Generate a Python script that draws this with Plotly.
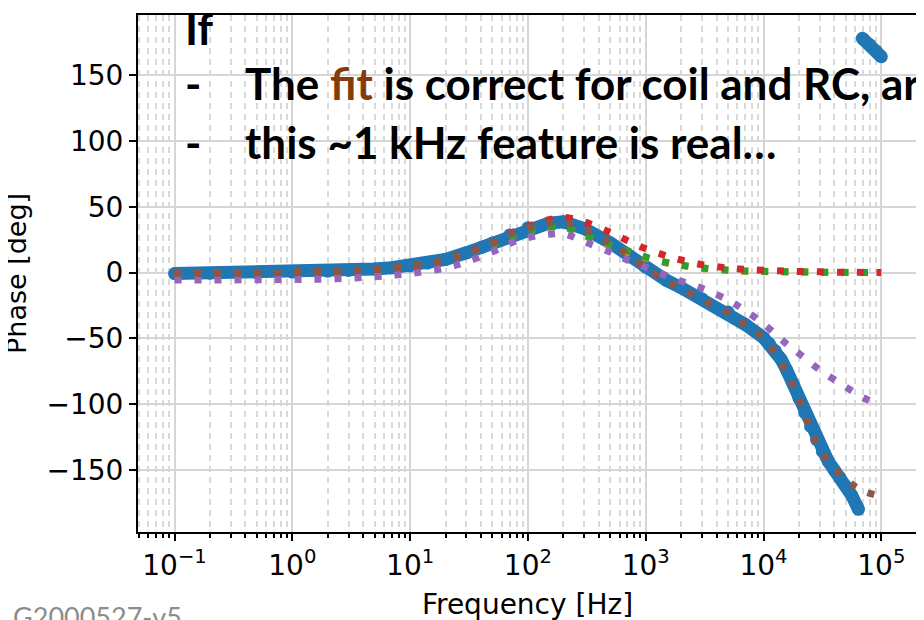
import plotly.graph_objects as go

# measured phase (deg) vs frequency (Hz); None splits the +/-180 wrap
freq_meas = [0.1, 0.2, 0.5, 1, 2, 3, 5, 7, 10, 14, 20, 30, 40, 50, 70, 100, 150, 200, 300,
             500, 700, 1000, 1500, 2000, 3000, 5000, 7000, 10000, 11200, 12600, 14100, 15800,
             17800, 20000, 22400, 25100, 28200, 31600, 35500, 39800, 44700, 50100, 56200,
             64000, None, 69000, 80000, 90000, 100000]
phase_meas = [-0.8, -0.5, -0.2, 0.3, 1, 1.6, 2.6, 3.6, 5, 7.2, 10, 15, 19, 22.5, 28.5, 34,
              37.5, 38.5, 33.5, 22.5, 13.5, 4, -6, -11.5, -20, -30, -39.5, -49.5, -54, -59.5,
              -66, -74.5, -84.5, -95.5, -106.5, -117, -127, -136, -143.5, -150, -156, -162.5,
              -169.5, -180, None, 178, 173, 168.5, 164]

# fit curves
freq_fit = [0.1, 0.2, 0.5, 1, 2, 5, 10, 20, 30, 50, 70, 100, 150, 200, 300, 500, 700,
            1000, 1500, 2000, 3000, 5000, 7000, 10000, 15000, 20000, 30000, 50000, 70000, 100000]
phase_orange = [-0.5, -0.5, -0.2, 0.2, 0.8, 2.3, 4.5, 9.3, 14.5, 21.5, 27, 32, 34.5, 34.5, 28,
                20.3, 15.3, 11, 7.2, 5.3, 3.1, 1.6, 1.0, 0.7, 0.5, 0.4, 0.2, 0.1, 0, 0]
phase_green = [-0.5, -0.5, -0.2, 0.2, 0.8, 2.3, 4.5, 9.3, 14.5, 21.5, 27, 32, 34.5, 35, 28.5,
               21.5, 16.5, 11.8, 7.7, 5.7, 3.6, 1.9, 1.2, 0.9, 0.6, 0.5, 0.3, 0.1, 0, 0]
phase_red = [-0.5, -0.5, -0.2, 0.2, 0.8, 2.3, 4.5, 9.5, 15, 22.5, 29.5, 35, 40, 42, 38.5,
             30.4, 24.2, 18, 12.7, 9.5, 6, 3.4, 2.4, 1.7, 1.1, 0.8, 0.5, 0.2, 0.1, 0]
phase_purple = [-5.7, -5.7, -5.5, -5.3, -5, -3.2, -0.7, 3.5, 8, 15.7, 22, 26.5, 29, 29.5, 23.5,
                15.5, 9.5, 4, -2.5, -6.5, -12, -21, -29, -39, -52.8, -61.5, -74, -87, -95, -101]
phase_brown = [-0.5, -0.5, -0.2, 0.2, 0.8, 2.3, 4.5, 9.5, 14.5, 22.5, 29.5, 34, 37.5, 38.5, 33,
               22.5, 13.5, 3.5, -6.5, -12, -20.5, -30.5, -40, -50, -73, -96, -134, -157, -166, -170]

y_ticks = [-150, -100, -50, 0, 50, 100, 150]
x_ticks = [0.1, 1, 10, 100, 1000, 10000, 100000]
x_labels = ["10<sup>−1</sup>", "10<sup>0</sup>", "10<sup>1</sup>", "10<sup>2</sup>",
            "10<sup>3</sup>", "10<sup>4</sup>", "10<sup>5</sup>"]

# page body adds an 8px offset, so the figure is laid out 8px up/left
OFF = 8
W, H = 924, 620
L, R, T, B = 130, 15, 7, 96


def px(x):
    return (x - OFF - L) / (W - L - R)


def py(y):
    return (H - B - (y - OFF)) / (H - T - B)


fig = go.Figure()

fig.add_trace(go.Scatter(x=freq_meas, y=phase_meas, mode="lines+markers",
                         line=dict(color="#1f77b4", width=13),
                         marker=dict(color="#1f77b4", size=13), connectgaps=False))

dot = "7px,13px"
for vals, col in [(phase_orange, "#ff7f0e"), (phase_green, "#2ca02c"), (phase_red, "#d62728"),
                  (phase_purple, "#9467bd"), (phase_brown, "#8c564b")]:
    fig.add_trace(go.Scatter(x=freq_fit, y=vals, mode="lines",
                             line=dict(color=col, width=7, dash=dot, shape="spline")))

txt_font = dict(family="Lato", size=44, color="black")
fig.add_annotation(text="<b>If</b>", x=px(183), y=py(28), xref="paper", yref="paper",
                   xanchor="left", yanchor="middle", showarrow=False, font=txt_font)
for yy in [83, 142]:
    fig.add_annotation(text="<b>-</b>", x=px(183), y=py(yy), xref="paper", yref="paper",
                       xanchor="left", yanchor="middle", showarrow=False, font=txt_font)
fig.add_annotation(text="<b>The <span style='color:#843c0c'>fit</span> is correct for coil and RC, ar</b>",
                   x=px(243), y=py(83), xref="paper", yref="paper",
                   xanchor="left", yanchor="middle", showarrow=False, font=txt_font)
fig.add_annotation(text="<b>this ~1 kHz feature is real…</b>",
                   x=px(243), y=py(142), xref="paper", yref="paper",
                   xanchor="left", yanchor="middle", showarrow=False, font=txt_font)
fig.add_annotation(text="G2000527-v5", x=px(11), y=py(598), xref="paper", yref="paper",
                   xanchor="left", yanchor="top", showarrow=False,
                   font=dict(family="Lato", size=27, color="#8c8c8c"))
# y-axis label
fig.add_annotation(text="Phase [deg]", x=px(16), y=py(274), xref="paper", yref="paper",
                   xanchor="center", yanchor="middle", textangle=-90, showarrow=False,
                   font=dict(family="DejaVu Sans", size=27, color="black"))

fig.update_layout(
    width=W, height=H, margin=dict(l=L, r=R, t=T, b=B, autoexpand=False),
    paper_bgcolor="white", plot_bgcolor="white", showlegend=False,
    font=dict(family="DejaVu Sans", size=28, color="black"),
)
fig.update_xaxes(
    type="log", range=[-1.31, 5.303], tickvals=x_ticks, ticktext=x_labels, automargin=False,
    showline=True, linecolor="black", linewidth=2, mirror=True,
    ticks="outside", ticklen=7, tickwidth=2, tickcolor="black",
    showgrid=True, gridcolor="#d6d6d6", gridwidth=1.5, zeroline=False,
    minor=dict(dtick="D1", ticks="outside", ticklen=4, tickwidth=1.5, tickcolor="black",
               showgrid=True, gridcolor="#d9d9d9", gridwidth=1.5, griddash="6px,5px"),
    title=dict(text="Frequency [Hz]", font=dict(size=28), standoff=14),
)
fig.update_yaxes(
    range=[-197.2, 195.7], tickvals=y_ticks, automargin=False,
    showline=True, linecolor="black", linewidth=2, mirror=True,
    ticks="outside", ticklen=7, tickwidth=2, tickcolor="black",
    showgrid=True, gridcolor="#d6d6d6", gridwidth=1.5, zeroline=False,
)

fig.write_html("out.html")
